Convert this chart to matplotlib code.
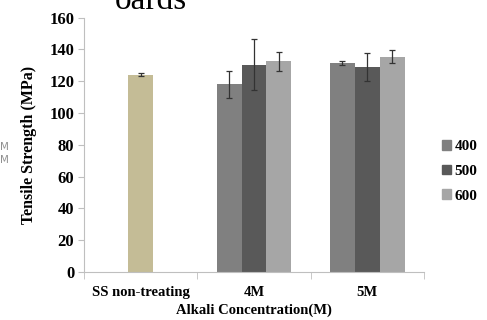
import numpy as np
from matplotlib import pyplot as plt
from matplotlib.patches import Patch

# Data
categories = ['SS non-treating', '4M', '5M']
series = ['400', '500', '600']
ss_value = 124.2
ss_err = 0.9
vals_400 = [118.1, 131.3]
err_400 = [8.5, 1.3]
vals_500 = [130.3, 129.0]
err_500 = [16.0, 8.8]
vals_600 = [132.4, 135.5]
err_600 = [6.2, 4.2]
yticks = [0, 20, 40, 60, 80, 100, 120, 140, 160]

colors = {'400': '#808080', '500': '#595959', '600': '#a6a6a6'}
ss_color = '#c4bc96'
font = 'Liberation Serif'

def main():
    fig = plt.figure(figsize=(4.87, 3.2), dpi=100)
    ax = fig.add_axes([0.1725, 0.15, 0.698, 0.795])

    width = 0.22
    ekw = dict(ecolor='#333333', elinewidth=0.9, capsize=2.5, capthick=0.9)

    ax.bar(0, ss_value, width, color=ss_color, yerr=ss_err, error_kw=ekw)

    x = np.array([1, 2])
    vals = [vals_400, vals_500, vals_600]
    errs = [err_400, err_500, err_600]
    for k, s in enumerate(series):
        ax.bar(x + (k - 1) * width, vals[k], width, color=colors[s],
               yerr=errs[k], error_kw=ekw, label=s)

    ax.set_xlim(-0.5, 2.5)
    ax.set_ylim(0, 160)
    ax.set_yticks(yticks)
    ax.set_yticklabels([str(t) for t in yticks], fontfamily=font,
                       fontweight='bold', fontsize=12)
    ax.set_xticks([0, 1, 2])
    ax.set_xticklabels(categories, fontfamily=font, fontweight='bold',
                       fontsize=10.5)
    ax.set_xticks([-0.5, 0.5, 1.5, 2.5], minor=True)
    ax.tick_params(axis='x', which='major', length=0, pad=10)
    ax.tick_params(axis='x', which='minor', length=5, color='#bfbfbf')
    ax.tick_params(axis='y', length=4, color='#bfbfbf', pad=3)

    for side in ['top', 'right']:
        ax.spines[side].set_visible(False)
    ax.spines['left'].set_color('#bfbfbf')
    ax.spines['bottom'].set_color('#bfbfbf')

    ax.set_ylabel('Tensile Strength (MPa)', fontfamily=font,
                  fontweight='bold', fontsize=11.5, labelpad=9)
    ax.set_xlabel('Alkali Concentration(M)', fontfamily=font,
                  fontweight='bold', fontsize=10.5, labelpad=3)

    handles = [Patch(color=colors[s]) for s in series]
    fig.legend(handles, series, loc='center left',
               bbox_to_anchor=(0.88, 0.465), frameon=False,
               handlelength=0.6, handleheight=0.6, handletextpad=0.2,
               labelspacing=0.75,
               prop={'family': font, 'weight': 'bold', 'size': 11})

    # cropped fragments visible at the edges of the reference
    fig.text(115 / 487, 1 - 9 / 320, 'oards', fontfamily=font, fontsize=24,
             va='baseline', ha='left')
    for yy in [147, 160]:
        fig.text(0.0, 1 - yy / 320, 'M', fontsize=7.5, color='#909090',
                 va='center', ha='left')

    plt.savefig('out.png', dpi=100)

if __name__ == "__main__":
    main()
